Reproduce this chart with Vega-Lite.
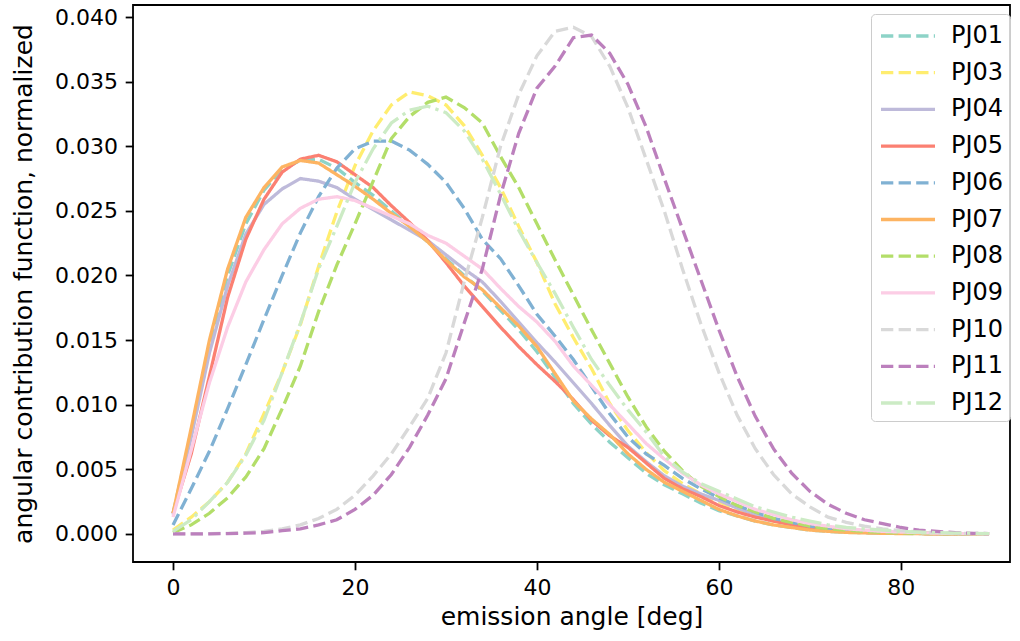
{
  "$schema": "https://vega.github.io/schema/vega-lite/v6.json",
  "autosize": {"type": "none"},
  "padding": {"left": 133, "top": 5, "right": 10, "bottom": 79},
  "width": 877,
  "height": 557,
  "background": "white",
  "data": {
    "values": [
      {"a":0,"PJ01":0.0016,"PJ03":0.0003,"PJ04":0.0015,"PJ05":0.0016,"PJ06":0.0007,"PJ07":0.0016,"PJ08":0.0001,"PJ09":0.0013,"PJ10":0,"PJ11":0,"PJ12":0.0002},
      {"a":2,"PJ01":0.0078,"PJ03":0.0013,"PJ04":0.0075,"PJ05":0.0062,"PJ06":0.0035,"PJ07":0.0082,"PJ08":0.0007,"PJ09":0.0065,"PJ10":0,"PJ11":0,"PJ12":0.0011},
      {"a":4,"PJ01":0.0145,"PJ03":0.0025,"PJ04":0.0140,"PJ05":0.0122,"PJ06":0.0064,"PJ07":0.0150,"PJ08":0.0016,"PJ09":0.0117,"PJ10":0.00002,"PJ11":0.00001,"PJ12":0.0025},
      {"a":6,"PJ01":0.0200,"PJ03":0.0040,"PJ04":0.0192,"PJ05":0.0183,"PJ06":0.0097,"PJ07":0.0205,"PJ08":0.0028,"PJ09":0.0160,"PJ10":0.00005,"PJ11":0.00003,"PJ12":0.0040},
      {"a":8,"PJ01":0.0240,"PJ03":0.0062,"PJ04":0.0232,"PJ05":0.0228,"PJ06":0.0131,"PJ07":0.0245,"PJ08":0.0044,"PJ09":0.0195,"PJ10":0.0001,"PJ11":0.00006,"PJ12":0.0061},
      {"a":10,"PJ01":0.0266,"PJ03":0.0093,"PJ04":0.0255,"PJ05":0.0259,"PJ06":0.0166,"PJ07":0.0268,"PJ08":0.0066,"PJ09":0.0220,"PJ10":0.0002,"PJ11":0.0001,"PJ12":0.0088},
      {"a":12,"PJ01":0.0282,"PJ03":0.0125,"PJ04":0.0267,"PJ05":0.0280,"PJ06":0.0200,"PJ07":0.0284,"PJ08":0.0097,"PJ09":0.0240,"PJ10":0.0004,"PJ11":0.00025,"PJ12":0.0125},
      {"a":14,"PJ01":0.0289,"PJ03":0.0162,"PJ04":0.0275,"PJ05":0.0290,"PJ06":0.0233,"PJ07":0.0289,"PJ08":0.0130,"PJ09":0.0252,"PJ10":0.0007,"PJ11":0.0004,"PJ12":0.0163},
      {"a":16,"PJ01":0.0290,"PJ03":0.0207,"PJ04":0.0273,"PJ05":0.0293,"PJ06":0.0261,"PJ07":0.0287,"PJ08":0.0172,"PJ09":0.0259,"PJ10":0.0012,"PJ11":0.0007,"PJ12":0.0205},
      {"a":18,"PJ01":0.0283,"PJ03":0.0249,"PJ04":0.0268,"PJ05":0.0288,"PJ06":0.0283,"PJ07":0.0278,"PJ08":0.0208,"PJ09":0.0261,"PJ10":0.0019,"PJ11":0.0011,"PJ12":0.0238},
      {"a":20,"PJ01":0.0272,"PJ03":0.0285,"PJ04":0.0259,"PJ05":0.0278,"PJ06":0.0298,"PJ07":0.0269,"PJ08":0.0240,"PJ09":0.0258,"PJ10":0.0030,"PJ11":0.0019,"PJ12":0.0272},
      {"a":22,"PJ01":0.0262,"PJ03":0.0312,"PJ04":0.0251,"PJ05":0.0268,"PJ06":0.0304,"PJ07":0.0259,"PJ08":0.0273,"PJ09":0.0252,"PJ10":0.0045,"PJ11":0.0030,"PJ12":0.0298},
      {"a":24,"PJ01":0.0250,"PJ03":0.0332,"PJ04":0.0243,"PJ05":0.0254,"PJ06":0.0304,"PJ07":0.0248,"PJ08":0.0306,"PJ09":0.0246,"PJ10":0.0062,"PJ11":0.0046,"PJ12":0.0318},
      {"a":26,"PJ01":0.0238,"PJ03":0.0342,"PJ04":0.0235,"PJ05":0.0241,"PJ06":0.0297,"PJ07":0.0238,"PJ08":0.0323,"PJ09":0.0240,"PJ10":0.0083,"PJ11":0.0067,"PJ12":0.0328},
      {"a":28,"PJ01":0.0226,"PJ03":0.0339,"PJ04":0.0227,"PJ05":0.0227,"PJ06":0.0286,"PJ07":0.0226,"PJ08":0.0334,"PJ09":0.0231,"PJ10":0.0105,"PJ11":0.0092,"PJ12":0.0331},
      {"a":30,"PJ01":0.0213,"PJ03":0.0332,"PJ04":0.0216,"PJ05":0.0210,"PJ06":0.0272,"PJ07":0.0212,"PJ08":0.0338,"PJ09":0.0225,"PJ10":0.0140,"PJ11":0.0120,"PJ12":0.0326},
      {"a":32,"PJ01":0.0200,"PJ03":0.0316,"PJ04":0.0205,"PJ05":0.0192,"PJ06":0.0252,"PJ07":0.0199,"PJ08":0.0330,"PJ09":0.0215,"PJ10":0.0195,"PJ11":0.0163,"PJ12":0.0312},
      {"a":34,"PJ01":0.0188,"PJ03":0.0293,"PJ04":0.0195,"PJ05":0.0176,"PJ06":0.0228,"PJ07":0.0189,"PJ08":0.0318,"PJ09":0.0205,"PJ10":0.0245,"PJ11":0.0205,"PJ12":0.0290},
      {"a":36,"PJ01":0.0173,"PJ03":0.0268,"PJ04":0.0180,"PJ05":0.0160,"PJ06":0.0213,"PJ07":0.0175,"PJ08":0.0292,"PJ09":0.0190,"PJ10":0.0300,"PJ11":0.0262,"PJ12":0.0263},
      {"a":38,"PJ01":0.0158,"PJ03":0.0238,"PJ04":0.0164,"PJ05":0.0145,"PJ06":0.0192,"PJ07":0.0161,"PJ08":0.0268,"PJ09":0.0176,"PJ10":0.0340,"PJ11":0.0310,"PJ12":0.0235},
      {"a":40,"PJ01":0.0141,"PJ03":0.0210,"PJ04":0.0148,"PJ05":0.0131,"PJ06":0.0170,"PJ07":0.0145,"PJ08":0.0240,"PJ09":0.0164,"PJ10":0.0370,"PJ11":0.0345,"PJ12":0.0210},
      {"a":42,"PJ01":0.0121,"PJ03":0.0178,"PJ04":0.0133,"PJ05":0.0118,"PJ06":0.0153,"PJ07":0.0124,"PJ08":0.0212,"PJ09":0.0149,"PJ10":0.0389,"PJ11":0.0362,"PJ12":0.0186},
      {"a":44,"PJ01":0.0101,"PJ03":0.0152,"PJ04":0.0117,"PJ05":0.0104,"PJ06":0.0135,"PJ07":0.0103,"PJ08":0.0185,"PJ09":0.0130,"PJ10":0.0392,"PJ11":0.0384,"PJ12":0.0160},
      {"a":46,"PJ01":0.0085,"PJ03":0.0128,"PJ04":0.0101,"PJ05":0.0088,"PJ06":0.0114,"PJ07":0.0089,"PJ08":0.0158,"PJ09":0.0115,"PJ10":0.0385,"PJ11":0.0386,"PJ12":0.0135},
      {"a":48,"PJ01":0.0071,"PJ03":0.0101,"PJ04":0.0084,"PJ05":0.0076,"PJ06":0.0093,"PJ07":0.0077,"PJ08":0.0132,"PJ09":0.0100,"PJ10":0.0362,"PJ11":0.0372,"PJ12":0.0115},
      {"a":50,"PJ01":0.0059,"PJ03":0.0080,"PJ04":0.0068,"PJ05":0.0067,"PJ06":0.0075,"PJ07":0.0062,"PJ08":0.0106,"PJ09":0.0085,"PJ10":0.0330,"PJ11":0.0348,"PJ12":0.0096},
      {"a":52,"PJ01":0.0047,"PJ03":0.0063,"PJ04":0.0056,"PJ05":0.0055,"PJ06":0.0062,"PJ07":0.0050,"PJ08":0.0083,"PJ09":0.0070,"PJ10":0.0290,"PJ11":0.0315,"PJ12":0.0079},
      {"a":54,"PJ01":0.0038,"PJ03":0.0049,"PJ04":0.0045,"PJ05":0.0043,"PJ06":0.0053,"PJ07":0.0040,"PJ08":0.0064,"PJ09":0.0058,"PJ10":0.0250,"PJ11":0.0275,"PJ12":0.0060},
      {"a":56,"PJ01":0.0031,"PJ03":0.0039,"PJ04":0.0037,"PJ05":0.0035,"PJ06":0.0043,"PJ07":0.0033,"PJ08":0.0049,"PJ09":0.0047,"PJ10":0.0205,"PJ11":0.0236,"PJ12":0.0048},
      {"a":58,"PJ01":0.0024,"PJ03":0.0031,"PJ04":0.0031,"PJ05":0.0029,"PJ06":0.0035,"PJ07":0.0026,"PJ08":0.0037,"PJ09":0.0038,"PJ10":0.0163,"PJ11":0.0197,"PJ12":0.0039},
      {"a":60,"PJ01":0.0018,"PJ03":0.0025,"PJ04":0.0026,"PJ05":0.0022,"PJ06":0.0028,"PJ07":0.0019,"PJ08":0.0029,"PJ09":0.0031,"PJ10":0.0125,"PJ11":0.0158,"PJ12":0.0033},
      {"a":62,"PJ01":0.0014,"PJ03":0.0019,"PJ04":0.0020,"PJ05":0.0017,"PJ06":0.0022,"PJ07":0.0014,"PJ08":0.0022,"PJ09":0.0025,"PJ10":0.0092,"PJ11":0.0122,"PJ12":0.0027},
      {"a":64,"PJ01":0.0010,"PJ03":0.0014,"PJ04":0.0015,"PJ05":0.0013,"PJ06":0.0017,"PJ07":0.0010,"PJ08":0.0017,"PJ09":0.0019,"PJ10":0.0066,"PJ11":0.0091,"PJ12":0.0021},
      {"a":66,"PJ01":0.0007,"PJ03":0.0010,"PJ04":0.0011,"PJ05":0.0010,"PJ06":0.0012,"PJ07":0.0007,"PJ08":0.0012,"PJ09":0.0015,"PJ10":0.0046,"PJ11":0.0066,"PJ12":0.0017},
      {"a":68,"PJ01":0.0005,"PJ03":0.0007,"PJ04":0.0008,"PJ05":0.0007,"PJ06":0.0009,"PJ07":0.0005,"PJ08":0.0009,"PJ09":0.0011,"PJ10":0.0031,"PJ11":0.0047,"PJ12":0.0013},
      {"a":70,"PJ01":0.0003,"PJ03":0.0005,"PJ04":0.0005,"PJ05":0.0005,"PJ06":0.0006,"PJ07":0.0003,"PJ08":0.0006,"PJ09":0.0008,"PJ10":0.0021,"PJ11":0.0033,"PJ12":0.0010},
      {"a":72,"PJ01":0.0002,"PJ03":0.0003,"PJ04":0.0003,"PJ05":0.0003,"PJ06":0.0004,"PJ07":0.0002,"PJ08":0.0004,"PJ09":0.0006,"PJ10":0.0013,"PJ11":0.0023,"PJ12":0.0007},
      {"a":74,"PJ01":0.00013,"PJ03":0.0002,"PJ04":0.0002,"PJ05":0.0002,"PJ06":0.0003,"PJ07":0.00012,"PJ08":0.0003,"PJ09":0.0004,"PJ10":0.0009,"PJ11":0.0016,"PJ12":0.0005},
      {"a":76,"PJ01":0.00009,"PJ03":0.00015,"PJ04":0.00013,"PJ05":0.00015,"PJ06":0.0002,"PJ07":0.00008,"PJ08":0.0002,"PJ09":0.0003,"PJ10":0.0006,"PJ11":0.0011,"PJ12":0.0004},
      {"a":78,"PJ01":0.00006,"PJ03":0.0001,"PJ04":0.00009,"PJ05":0.0001,"PJ06":0.0001,"PJ07":0.00005,"PJ08":0.00012,"PJ09":0.0002,"PJ10":0.0004,"PJ11":0.0008,"PJ12":0.0003},
      {"a":80,"PJ01":0.00004,"PJ03":0.00007,"PJ04":0.00006,"PJ05":0.00006,"PJ06":0.00007,"PJ07":0.00003,"PJ08":0.00008,"PJ09":0.00015,"PJ10":0.00025,"PJ11":0.0005,"PJ12":0.0002},
      {"a":82,"PJ01":0.00003,"PJ03":0.00005,"PJ04":0.00004,"PJ05":0.00004,"PJ06":0.00005,"PJ07":0.00002,"PJ08":0.00005,"PJ09":0.0001,"PJ10":0.00015,"PJ11":0.0003,"PJ12":0.00015},
      {"a":84,"PJ01":0.00002,"PJ03":0.00003,"PJ04":0.00003,"PJ05":0.00003,"PJ06":0.00003,"PJ07":0.00001,"PJ08":0.00003,"PJ09":0.00006,"PJ10":0.0001,"PJ11":0.0002,"PJ12":0.0001},
      {"a":86,"PJ01":0.00001,"PJ03":0.00002,"PJ04":0.00002,"PJ05":0.00002,"PJ06":0.00002,"PJ07":0.00001,"PJ08":0.00002,"PJ09":0.00004,"PJ10":0.00006,"PJ11":0.0001,"PJ12":0.00007},
      {"a":88,"PJ01":0.00001,"PJ03":0.00001,"PJ04":0.00001,"PJ05":0.00001,"PJ06":0.00001,"PJ07":0,"PJ08":0.00001,"PJ09":0.00002,"PJ10":0.00003,"PJ11":0.00005,"PJ12":0.00005},
      {"a":89.7,"PJ01":0,"PJ03":0,"PJ04":0,"PJ05":0,"PJ06":0,"PJ07":0,"PJ08":0,"PJ09":0.00001,"PJ10":0.00002,"PJ11":0.00003,"PJ12":0.00003}
    ]
  },
  "transform": [
    {"fold": ["PJ01","PJ03","PJ04","PJ05","PJ06","PJ07","PJ08","PJ09","PJ10","PJ11","PJ12"], "as": ["pj", "v"]}
  ],
  "mark": {"type": "line", "strokeWidth": 3.3, "strokeCap": "butt", "clip": true},
  "encoding": {
    "x": {
      "field": "a", "type": "quantitative",
      "scale": {"domain": [-4.4, 92.0], "nice": false, "zero": false},
      "axis": {"values": [0, 20, 40, 60, 80], "title": "emission angle [deg]", "titlePadding": 6}
    },
    "y": {
      "field": "v", "type": "quantitative",
      "scale": {"domain": [-0.00217, 0.04093], "nice": false, "zero": false},
      "axis": {"values": [0, 0.005, 0.01, 0.015, 0.02, 0.025, 0.03, 0.035, 0.04], "format": ".3f", "title": "angular contribution function, normalized", "titlePadding": 18}
    },
    "color": {
      "field": "pj", "type": "nominal",
      "scale": {
        "domain": ["PJ01","PJ03","PJ04","PJ05","PJ06","PJ07","PJ08","PJ09","PJ10","PJ11","PJ12"],
        "range": ["#8dd3c7","#ffed6f","#bebada","#fb8072","#80b1d3","#fdb462","#b3de69","#fccde5","#d9d9d9","#bc80bd","#ccebc5"]
      },
      "legend": {"title": null}
    },
    "strokeDash": {
      "field": "pj", "type": "nominal",
      "scale": {
        "domain": ["PJ01","PJ03","PJ04","PJ05","PJ06","PJ07","PJ08","PJ09","PJ10","PJ11","PJ12"],
        "range": [[12.3,5.3],[12.3,5.3],[1,0],[1,0],[12.3,5.3],[1,0],[12.3,5.3],[1,0],[12.3,5.3],[12.3,5.3],[21.3,5.3,3.3,5.3]]
      },
      "legend": {"title": null}
    }
  },
  "config": {
    "font": "DejaVu Sans",
    "view": {"stroke": "black", "strokeWidth": 1.8},
    "axis": {
      "domain": false,
      "grid": false,
      "ticks": true,
      "tickColor": "black",
      "tickWidth": 1.8,
      "tickSize": 7.8,
      "labelPadding": 7.8,
      "labelFont": "DejaVu Sans",
      "labelFontSize": 22,
      "labelColor": "black",
      "titleFont": "DejaVu Sans",
      "titleFontSize": 25,
      "titleFontWeight": "normal",
      "titleColor": "black",
      "labelFlush": false,
      "labelOverlap": false
    },
    "legend": {
      "orient": "none",
      "legendX": 738,
      "legendY": 9,
      "labelFont": "DejaVu Sans",
      "labelFontSize": 24,
      "labelColor": "black",
      "symbolType": "M-0.857,0H3",
      "symbolSize": 784,
      "symbolStrokeWidth": 3.3,
      "symbolFillColor": "transparent",
      "labelOffset": 42,
      "rowPadding": 8.7,
      "padding": 6,
      "strokeColor": "#cccccc",
      "fillColor": "rgba(255,255,255,0.8)",
      "cornerRadius": 4
    }
  }
}
